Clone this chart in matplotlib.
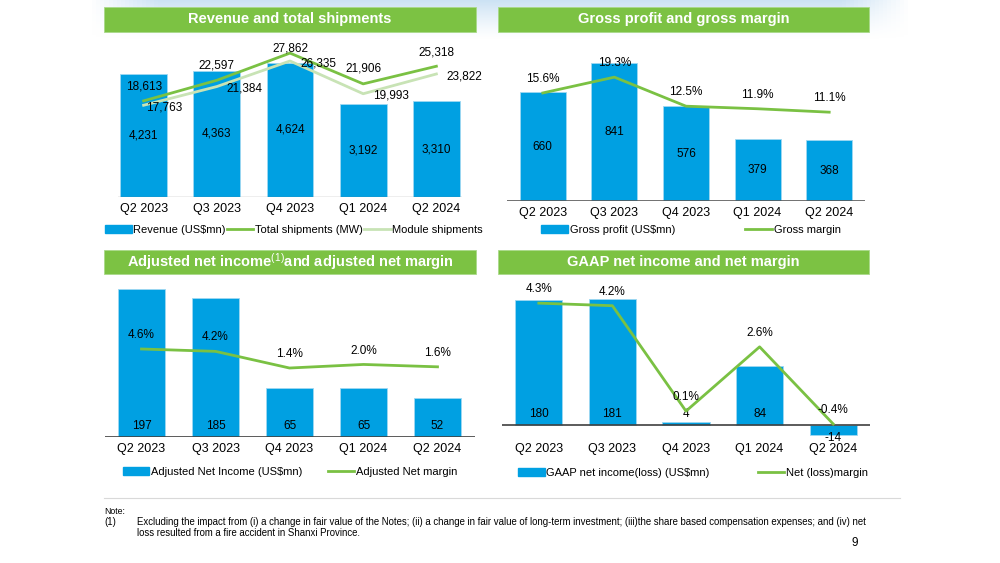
import numpy as np
import matplotlib
matplotlib.use("Agg")
import matplotlib.pyplot as plt
from matplotlib.patches import Rectangle, Patch
from matplotlib.lines import Line2D
from matplotlib import font_manager

# ---- data ----
quarters = ["Q2 2023", "Q3 2023", "Q4 2023", "Q1 2024", "Q2 2024"]
revenue = [4231, 4363, 4624, 3192, 3310]
total_shipments = [18613, 22597, 27862, 21906, 25318]
module_shipments = [17763, 21384, 26335, 19993, 23822]
gross_profit = [660, 841, 576, 379, 368]
gross_margin = [15.6, 19.3, 12.5, 11.9, 11.1]
adj_net_income = [197, 185, 65, 65, 52]
adj_net_margin = [4.6, 4.2, 1.4, 2.0, 1.6]
gaap_net_income = [180, 181, 4, 84, -14]
gaap_net_margin = [4.3, 4.2, 0.1, 2.6, -0.4]

BLUE = "#00A0E2"
GREEN = "#7AC143"
LIGHT_GREEN = "#C8E3B5"
BAR_GREEN = "#7CC243"
W, H = 1000, 563

plt.rcParams['font.family'] = ['Liberation Sans', 'DejaVu Sans']
plt.rcParams['mathtext.fontset'] = 'custom'
plt.rcParams['mathtext.rm'] = 'Liberation Sans'
plt.rcParams['mathtext.it'] = 'Liberation Sans'

fig = plt.figure(figsize=(10, 5.63), dpi=100)

# light sky band along the top of the slide
bg = fig.add_axes([0, 0, 1, 1], zorder=-10)
bg.set_xlim(0, W)
bg.set_ylim(H, 0)
bg.axis("off")
grad = np.zeros((40, 200, 4))
grad[..., 0], grad[..., 1], grad[..., 2] = 0.80, 0.89, 0.96
vert = np.linspace(1, 0, 40)[:, None] ** 1.3
horiz = np.clip(np.minimum(np.linspace(0, 1, 200), np.linspace(1, 0, 200)) * 12, 0, 1)[None, :]
grad[..., 3] = vert * horiz
bg.imshow(grad, extent=(88, 912, 40, 0), aspect="auto")


def px_axes(x0, y0, x1, y1):
    return fig.add_axes([x0 / W, 1 - y1 / H, (x1 - x0) / W, (y1 - y0) / H])


def title_bar(x0, y0, x1, y1, text):
    fig.patches.append(Rectangle((x0 / W, 1 - y1 / H), (x1 - x0) / W, (y1 - y0) / H,
                                 transform=fig.transFigure, facecolor=BAR_GREEN,
                                 edgecolor="#A9D98A", lw=0.6, zorder=1))
    fig.text((x0 + x1) / 2 / W, 1 - (y0 + y1) / 2 / H, text, color="white",
             fontsize=10.5, fontweight="bold", ha="center", va="center", zorder=2)


def base_axes(ax, xlim, ylim):
    ax.set_xlim(*xlim)
    ax.set_ylim(*ylim)
    for s in ax.spines.values():
        s.set_visible(False)
    ax.set_yticks([])
    ax.set_xticks(range(len(quarters)))
    ax.set_xticklabels(quarters, fontsize=9)
    ax.tick_params(axis="x", length=0, pad=4)
    ax.patch.set_alpha(0)


def twin(ax, ylim):
    ax2 = ax.twinx()
    ax2.set_ylim(*ylim)
    ax2.axis("off")
    return ax2


def legend(ax, handles, labels, cx, cy, spacing):
    ax.legend(handles, labels, loc="center", bbox_to_anchor=(cx / W, 1 - cy / H),
              bbox_transform=fig.transFigure, ncol=len(handles), frameon=False,
              fontsize=8, handlelength=2.4, handletextpad=0.15,
              columnspacing=spacing, borderpad=0)


x = np.arange(len(quarters))
bar_kw = dict(width=0.64, color=BLUE, edgecolor="#9FD8F2", linewidth=0.6, zorder=2)

# ---------- Revenue and total shipments ----------
title_bar(104, 7, 476, 32, "Revenue and total shipments")
ax = px_axes(118, 40, 462, 197)
base_axes(ax, (-0.35, 4.35), (0, 5417))
ax.axhline(0, color="#7F7F7F", lw=0.9, zorder=3)
bars = ax.bar(x, revenue, **bar_kw)
ax.bar_label(bars, labels=[f"{v:,}" for v in revenue], label_type="center", fontsize=8.5)
ax2 = twin(ax, (0, 30400))
ax2.plot(x, module_shipments, color=LIGHT_GREEN, lw=2, zorder=3)
ax2.plot(x, total_shipments, color=GREEN, lw=2, zorder=4)
total_dy = [14, 15, 5, 15, 14]
module_dx = [2, 10, 10, 10, 10]
for i in range(len(x)):
    ax2.annotate(f"{total_shipments[i]:,}", (x[i], total_shipments[i]),
                 xytext=(0, total_dy[i] * 0.72), textcoords="offset points",
                 ha="center", va="center", fontsize=8.5, zorder=5)
    ax2.annotate(f"{module_shipments[i]:,}", (x[i], module_shipments[i]),
                 xytext=(module_dx[i] * 0.72, -1.5), textcoords="offset points",
                 ha="left", va="center", fontsize=8.5, zorder=5)
legend(ax, [Patch(color=BLUE), Line2D([], [], color=GREEN, lw=2),
            Line2D([], [], color=LIGHT_GREEN, lw=2)],
       ["Revenue (US$mn)", "Total shipments (MW)", "Module shipments"], 294, 230, 0.1)

# ---------- Gross profit and gross margin ----------
title_bar(498, 7, 869, 32, "Gross profit and gross margin")
ax = px_axes(507, 40, 865, 201)
base_axes(ax, (-0.5, 4.5), (0, 979))
ax.axhline(0, color="#595959", lw=1.2, zorder=3)
bars = ax.bar(x, gross_profit, **bar_kw)
ax.bar_label(bars, label_type="center", fontsize=8.5)
ax2 = twin(ax, (-9.7, 28.0))
ax2.plot(x, gross_margin, color=GREEN, lw=2, zorder=4)
for i in range(len(x)):
    ax2.annotate(f"{gross_margin[i]:.1f}%", (x[i], gross_margin[i]), xytext=(0, 10),
                 textcoords="offset points", ha="center", va="center", fontsize=8.5,
                 zorder=5)
legend(ax, [Patch(color=BLUE), Line2D([], [], color=GREEN, lw=2)],
       ["Gross profit (US$mn)", "Gross margin"], 691, 230, 6.3)

# ---------- Adjusted net income and adjusted net margin ----------
title_bar(104, 250, 476, 274, "Adjusted net income$^{(1)}$and adjusted net margin")
ax = px_axes(104.5, 280, 474.5, 437)
base_axes(ax, (-0.5, 4.5), (0, 208.8))
ax.axhline(0, color="#404040", lw=1.2, zorder=3)
ax.bar(x, adj_net_income, **bar_kw)
for i in range(len(x)):
    ax.annotate(f"{adj_net_income[i]}", (x[i], 0), xytext=(0, 8),
                textcoords="offset points", ha="center", va="center", fontsize=8.5, zorder=5)
ax2 = twin(ax, (-10.2, 16.2))
ax2.plot(x, adj_net_margin, color=GREEN, lw=2, zorder=4)
for i in range(len(x)):
    ax2.annotate(f"{adj_net_margin[i]:.1f}%", (x[i], adj_net_margin[i]), xytext=(0, 10),
                 textcoords="offset points", ha="center", va="center", fontsize=8.5,
                 zorder=5)
legend(ax, [Patch(color=BLUE), Line2D([], [], color=GREEN, lw=2)],
       ["Adjusted Net Income (US$mn)", "Adjusted Net margin"], 290, 472, 2.3)

# ---------- GAAP net income and net margin ----------
title_bar(498, 250, 869, 274, "GAAP net income and net margin")
ax = px_axes(502, 280, 870, 437)
base_axes(ax, (-0.5, 4.5), (-17.2, 208))
ax.axhline(0, color="#404040", lw=1.2, zorder=3)
ax.bar(x, gaap_net_income, **bar_kw)
for i in range(len(x)):
    dy = 8 if gaap_net_income[i] >= 0 else -9
    ax.annotate(f"{gaap_net_income[i]}", (x[i], 0), xytext=(0, dy),
                textcoords="offset points", ha="center", va="center", fontsize=8.5, zorder=5)
ax2 = twin(ax, (-0.907, 5.20))
ax2.plot(x, gaap_net_margin, color=GREEN, lw=2, zorder=4)
for i in range(len(x)):
    ax2.annotate(f"{gaap_net_margin[i]:.1f}%", (x[i], gaap_net_margin[i]), xytext=(0, 10),
                 textcoords="offset points", ha="center", va="center", fontsize=8.5,
                 zorder=5)
legend(ax, [Patch(color=BLUE), Line2D([], [], color=GREEN, lw=2)],
       ["GAAP net income(loss) (US$mn)", "Net (loss)margin"], 693, 473, 4.3)

# ---------- footnote ----------
fig.add_artist(Line2D([104 / W, 900 / W], [1 - 498 / H, 1 - 498 / H],
                      color="#D9D9D9", lw=0.8))
names = {f.name for f in font_manager.fontManager.ttflist}
note_font = "Liberation Sans Narrow" if "Liberation Sans Narrow" in names else "Liberation Sans"
note_size = 7.75 if note_font == "Liberation Sans Narrow" else 6.9
fig.text(104 / W, 1 - 511 / H, "Note:", fontsize=6.3, family=note_font, va="center")
fig.text(104 / W, 1 - 522 / H, "(1)", fontsize=note_size, family=note_font, va="center")
fig.text(137 / W, 1 - 522 / H,
         "Excluding the impact from (i) a change in fair value of the Notes; (ii) a change in "
         "fair value of long-term investment; (iii)the share based compensation expenses; "
         "and (iv) net", fontsize=note_size, family=note_font, va="center")
fig.text(137 / W, 1 - 533 / H, "loss resulted from a fire accident in Shanxi Province.",
         fontsize=note_size, family=note_font, va="center")
fig.text(855 / W, 1 - 543 / H, "9", fontsize=8.5, ha="center", va="center")

fig.savefig("out.png", dpi=100)
